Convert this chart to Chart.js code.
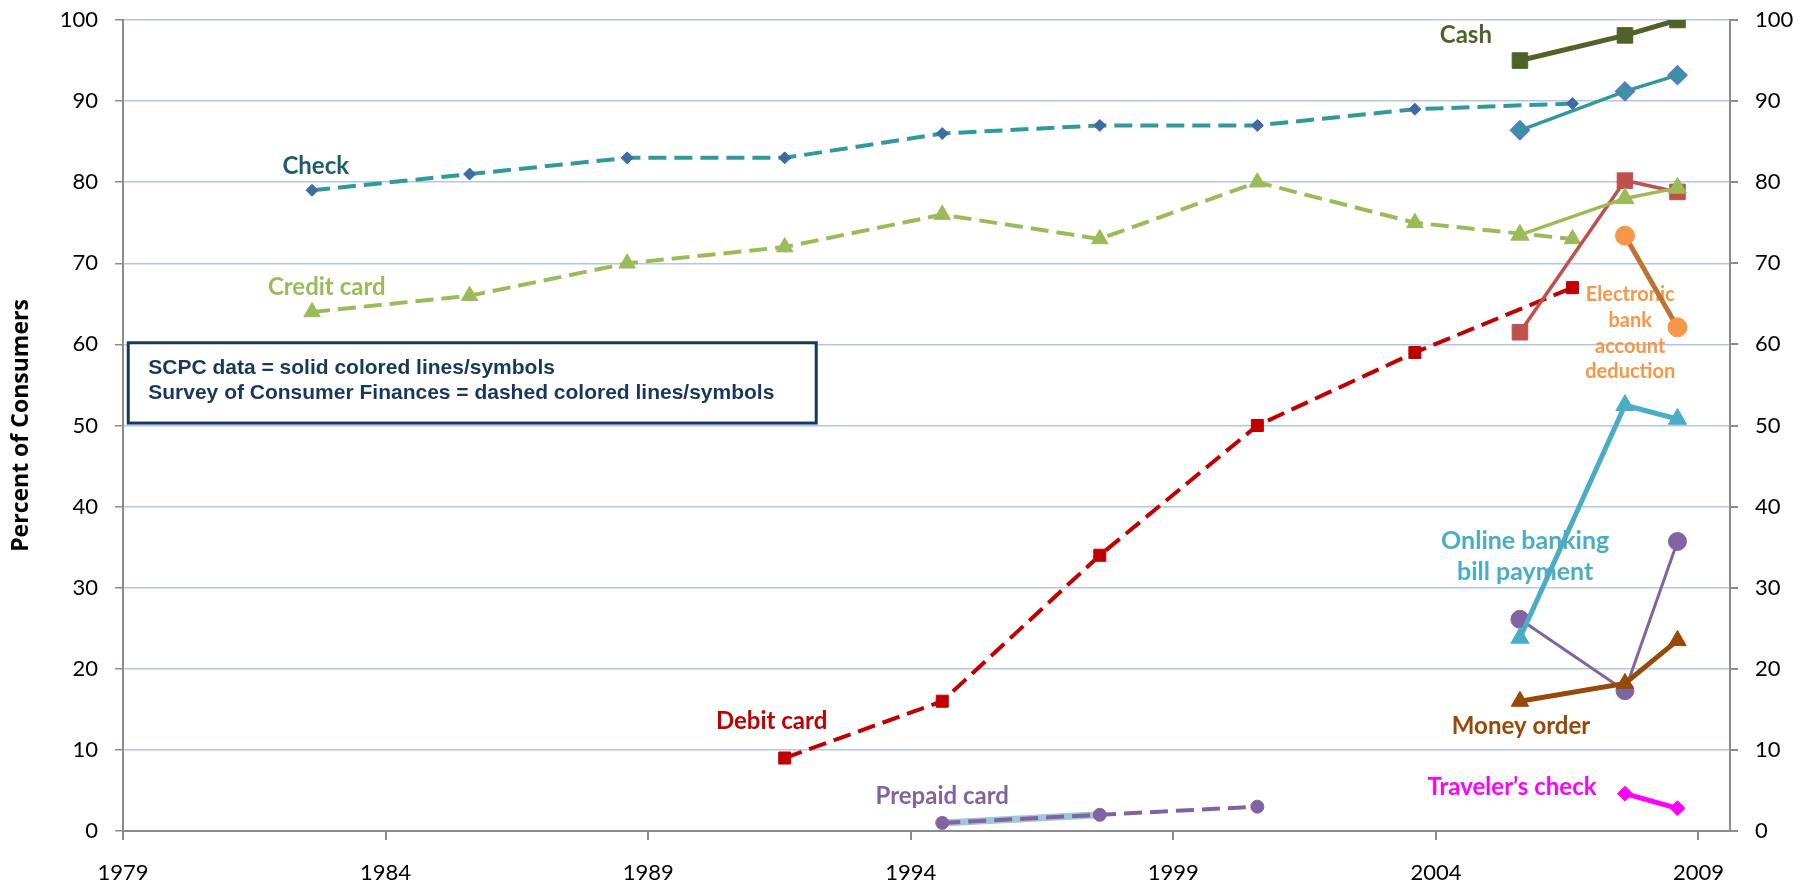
<!DOCTYPE html>
<html>
<head>
<meta charset="utf-8">
<script src="https://cdn.jsdelivr.net/npm/chart.js@4.4.1/dist/chart.umd.min.js"></script>
<style>
  html, body { margin: 0; padding: 0; background: #fff; }
</style>
</head>
<body>
<canvas id="paymentChart" width="1800" height="887"></canvas>
<script>
// Survey years (SCF, dashed) and SCPC years (solid)
const scfYears = [1983, 1986, 1989, 1992, 1995, 1998, 2001, 2004, 2007];
const scpcYears = [2006, 2008, 2009];

// SCF series (percent of consumers)
const checkScf   = [79, 81, 83, 83, 86, 87, 87, 89, 89.7];
const creditScf  = [64, 66, 70, 72, 76, 73, 80, 75, 73];
const debitScf   = [null, null, null, 9, 16, 34, 50, 59, 67];
const prepaidScf = [null, null, null, null, 1, 2, 3, null, null];
const prepaidScfShade = [null, null, null, null, 1, 2, null, null, null];

// SCPC series
const cashScpc     = [95.0, 98.1, 100];
const checkScpc    = [86.4, 91.2, 93.2];
const creditScpc   = [73.5, 78.0, 79.3];
const debitScpc    = [61.5, 80.2, 78.8];
const ebadScpc     = [null, 73.4, 62.1];
const onlineScpc   = [23.8, 52.5, 50.8];
const prepaidScpc  = [26.1, 17.3, 35.7];
const moneyScpc    = [16.0, 18.2, 23.5];
const travelerScpc = [null, 4.6, 2.8];

// x axis: Excel-style axis starting at 1979.4, labels rounded
const xTickValues = [1979.4, 1984.4, 1989.4, 1994.4, 1999.4, 2004.4, 2009.4];
const xTickLabels = ['1979', '1984', '1989', '1994', '1999', '2004', '2009'];

// text labels next to the series (in data units)
const seriesLabels = [
  { text: ['Check'], x: 1983.07, y: 82.0, color: '#1f5c6b', size: 24 },
  { text: ['Credit card'], x: 1983.28, y: 67.0, color: '#9bbb59', size: 24 },
  { text: ['Cash'], x: 2004.97, y: 98.1, color: '#4f6228', size: 24 },
  { text: ['Debit card'], x: 1991.75, y: 13.5, color: '#c00000', size: 24 },
  { text: ['Prepaid card'], x: 1995.0, y: 4.3, color: '#8064a2', size: 24 },
  { text: ['Online banking', 'bill payment'], x: 2006.1, y: 35.8, color: '#4bacc6', size: 25, lineGap: 31 },
  { text: ['Money order'], x: 2006.02, y: 12.9, color: '#984807', size: 24 },
  { text: ['Traveler\u2019s check'], x: 2005.85, y: 5.4, color: '#ff00ff', size: 24 },
  { text: ['Electronic', 'bank', 'account', 'deduction'], x: 2008.1, y: 66.1, color: '#f79646', size: 20, lineGap: 25.7 }
];

const noteLines = ['SCPC data = solid colored lines/symbols',
                   'Survey of Consumer Finances = dashed colored lines/symbols'];
const noteBox = { x0: 1979.5, x1: 1992.6, y0: 60.2, y1: 50.3 };

function pts(years, vals) {
  return years.map((x, i) => ({ x: x, y: vals[i] })).filter(p => p.y !== null);
}

function series(label, data, o) {
  return {
    label: label,
    data: data,
    borderColor: o.line,
    borderWidth: o.width,
    borderDash: o.dash ? [18, 8] : [],
    backgroundColor: o.fill || o.line,
    pointBackgroundColor: o.fill || o.line,
    pointBorderColor: o.pointBorder || o.fill || o.line,
    pointBorderWidth: o.pointBorderWidth || 1,
    pointStyle: o.style || false,
    pointRadius: o.radius || 0,
    pointHoverRadius: o.radius || 0,
    tension: 0,
    fill: false
  };
}

const datasets = [
  series('Traveler\u2019s check', pts(scpcYears, travelerScpc), { line: '#ff00ff', width: 5, style: 'rectRot', radius: 7.5 }),
  series('Money order', pts(scpcYears, moneyScpc), { line: '#984807', width: 5, style: 'triangle', radius: 10 }),
  series('Online banking', pts(scpcYears, onlineScpc), { line: '#4bacc6', width: 5, style: 'triangle', radius: 10.5 }),
  series('Prepaid card SCPC', pts(scpcYears, prepaidScpc), { line: '#8064a2', width: 3, style: 'circle', radius: 9 }),
  series('Electronic', pts(scpcYears, ebadScpc), { line: '#bd7332', fill: '#f79646', width: 5, style: 'circle', radius: 9.5 }),
  series('Credit SCPC', pts(scpcYears, creditScpc), { line: '#9bbb59', width: 3.5, style: 'triangle', radius: 10.5 }),
  series('Debit SCPC', pts(scpcYears, debitScpc), { line: '#c0504d', width: 3.5, style: 'rect', radius: 11 }),
  series('Check SCPC', pts(scpcYears, checkScpc), { line: '#31999a', fill: '#31999a', pointBorder: '#4f81bd', pointBorderWidth: 3.5, width: 3.5, style: 'rectRot', radius: 8 }),
  series('Cash', pts(scpcYears, cashScpc), { line: '#4f6228', width: 5, style: 'rect', radius: 11 }),
  series('Prepaid card SCF', pts(scfYears, prepaidScf), { line: '#8064a2', width: 4, dash: true, style: 'circle', radius: 6.5 }),
  series('Prepaid shade', pts(scfYears, prepaidScfShade), { line: '#9fc8d8', width: 7 }),
  series('Debit SCF', pts(scfYears, debitScf), { line: '#c00000', width: 4, dash: true, style: 'rect', radius: 8.5 }),
  series('Credit SCF', pts(scfYears, creditScf), { line: '#9bbb59', width: 4, dash: true, style: 'triangle', radius: 9.5 }),
  series('Check SCF', pts(scfYears, checkScf), { line: '#31999a', fill: '#3e6aa5', width: 4, dash: true, style: 'rectRot', radius: 6 })
];

// draws the note box and the series names
const annotations = {
  id: 'annotations',
  beforeDatasetsDraw(chart) {
    const ctx = chart.ctx;
    const xs = chart.scales.x, ys = chart.scales.y;
    ctx.save();

    // note box
    const bx0 = xs.getPixelForValue(noteBox.x0), bx1 = xs.getPixelForValue(noteBox.x1);
    const by0 = ys.getPixelForValue(noteBox.y0), by1 = ys.getPixelForValue(noteBox.y1);
    ctx.fillStyle = '#ffffff';
    ctx.fillRect(bx0, by0, bx1 - bx0, by1 - by0);
    ctx.strokeStyle = '#17375e';
    ctx.lineWidth = 3;
    ctx.strokeRect(bx0, by0, bx1 - bx0, by1 - by0);
    ctx.fillStyle = '#17375e';
    ctx.font = 'bold 21px "Liberation Sans", Arial, sans-serif';
    ctx.textAlign = 'left';
    ctx.textBaseline = 'middle';
    noteLines.forEach((t, i) => ctx.fillText(t, bx0 + 20, by0 + 25 + i * 25));

    // series names
    ctx.textAlign = 'center';
    seriesLabels.forEach(l => {
      ctx.fillStyle = l.color;
      ctx.font = 'bold ' + l.size + 'px Lato, sans-serif';
      const px = xs.getPixelForValue(l.x);
      const py = ys.getPixelForValue(l.y);
      l.text.forEach((t, i) => ctx.fillText(t, px, py + i * (l.lineGap || 0)));
    });
    ctx.restore();
  }
};

const axisGray = '#8c8c8c';
const tickFont = { family: 'Lato, sans-serif', size: 22 };

// fixed axis sizes so the plot area matches the original layout
function fixVertical(width) {
  return scale => {
    scale.width = width;
    scale.paddingTop = 0;
    scale.paddingBottom = 0;
  };
}

new Chart(document.getElementById('paymentChart'), {
  type: 'line',
  data: { datasets: datasets },
  options: {
    responsive: false,
    animation: false,
    events: [],
    layout: { padding: { top: 20, left: 0, right: 0, bottom: 0 } },
    plugins: { legend: { display: false }, tooltip: { enabled: false } },
    scales: {
      x: {
        type: 'linear',
        min: 1979.4,
        max: 2010,
        afterBuildTicks: scale => { scale.ticks = xTickValues.map(v => ({ value: v })); },
        afterFit: scale => { scale.height = 56; },
        grid: { drawOnChartArea: false, drawTicks: true, tickLength: 9, tickColor: axisGray, lineWidth: 2 },
        border: { color: axisGray, width: 2 },
        ticks: {
          font: tickFont, color: '#000', padding: 20, maxRotation: 0, autoSkip: false,
          callback: (v, i) => xTickLabels[i]
        }
      },
      y: {
        position: 'left',
        min: 0,
        max: 100,
        afterFit: fixVertical(123),
        grid: { color: '#b3c6e7', lineWidth: 1.5, tickColor: axisGray, tickLength: 8 },
        border: { color: axisGray, width: 2 },
        ticks: { stepSize: 10, font: tickFont, color: '#000', padding: 17 },
        title: {
          display: true,
          text: 'Percent of Consumers',
          font: { family: '"Open Sans", sans-serif', size: 23, weight: 'bold' },
          color: '#000',
          padding: { top: 8, bottom: 0 }
        }
      },
      y2: {
        position: 'right',
        min: 0,
        max: 100,
        afterFit: fixVertical(70),
        grid: { drawOnChartArea: false, tickColor: axisGray, tickLength: 8, lineWidth: 2 },
        border: { color: axisGray, width: 2 },
        ticks: { stepSize: 10, font: tickFont, color: '#000', padding: 17 }
      }
    }
  },
  plugins: [annotations]
});
</script>
</body>
</html>
